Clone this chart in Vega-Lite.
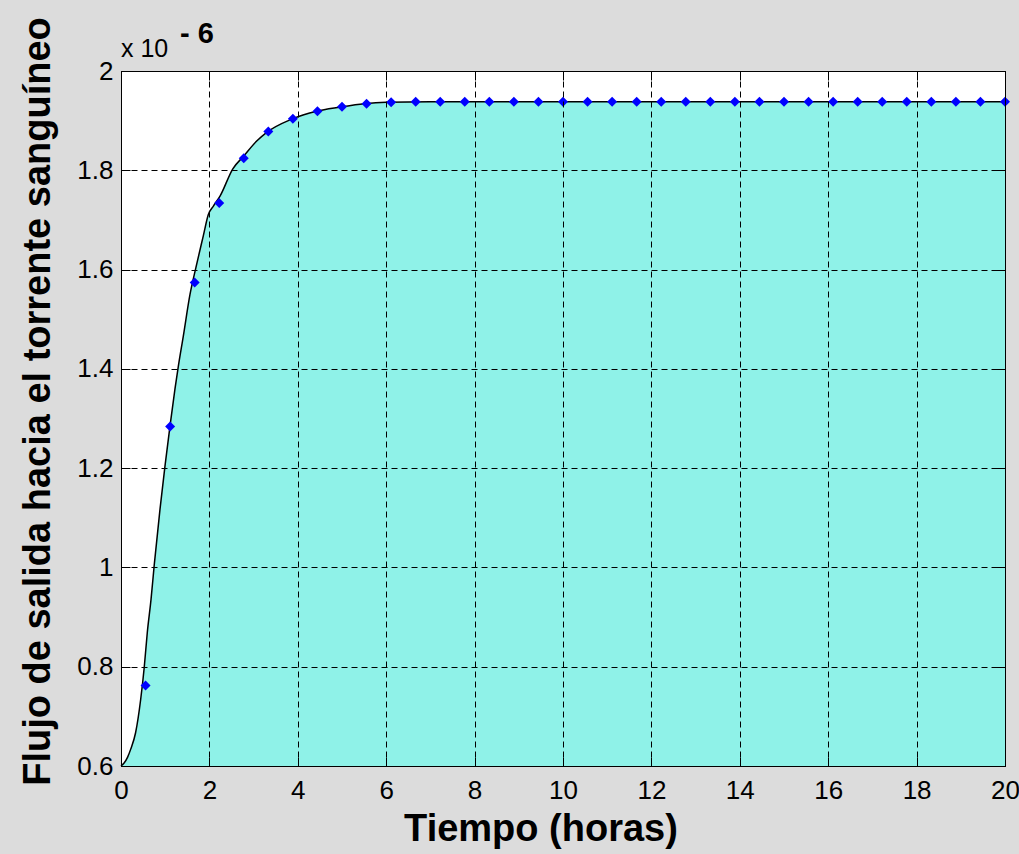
{
  "$schema": "https://vega.github.io/schema/vega-lite/v6.json",
  "width": 884,
  "height": 695,
  "autosize": {"type": "none"},
  "padding": {"left": 121, "top": 71, "right": 14, "bottom": 88},
  "background": "#dcdcdc",
  "config": {
    "view": {"fill": "white", "stroke": "black", "strokeWidth": 1},
    "font": "Liberation Sans"
  },
  "datasets": {
    "curve": [
      {"t": 0, "v": 0.600},
      {"t": 0.07, "v": 0.606},
      {"t": 0.15, "v": 0.618},
      {"t": 0.22, "v": 0.634},
      {"t": 0.33, "v": 0.667},
      {"t": 0.445, "v": 0.734},
      {"t": 0.527, "v": 0.800},
      {"t": 0.595, "v": 0.869},
      {"t": 0.68, "v": 0.936},
      {"t": 0.75, "v": 1.003},
      {"t": 0.882, "v": 1.117},
      {"t": 0.995, "v": 1.204},
      {"t": 1.109, "v": 1.285},
      {"t": 1.222, "v": 1.360},
      {"t": 1.297, "v": 1.405},
      {"t": 1.41, "v": 1.466},
      {"t": 1.561, "v": 1.550},
      {"t": 1.697, "v": 1.605},
      {"t": 1.862, "v": 1.668},
      {"t": 1.976, "v": 1.711},
      {"t": 2.09, "v": 1.728},
      {"t": 2.24, "v": 1.748},
      {"t": 2.53, "v": 1.803},
      {"t": 2.77, "v": 1.828},
      {"t": 3.07, "v": 1.859},
      {"t": 3.29, "v": 1.876},
      {"t": 3.86, "v": 1.903},
      {"t": 4.43, "v": 1.919},
      {"t": 4.95, "v": 1.927},
      {"t": 5.5, "v": 1.934},
      {"t": 6.0, "v": 1.937},
      {"t": 7.0, "v": 1.938},
      {"t": 20, "v": 1.938}
    ],
    "pts": [
      {"t": 0.5556, "v": 0.762},
      {"t": 1.1111, "v": 1.284},
      {"t": 1.6667, "v": 1.574},
      {"t": 2.2222, "v": 1.734},
      {"t": 2.7778, "v": 1.824},
      {"t": 3.3333, "v": 1.878},
      {"t": 3.8889, "v": 1.904},
      {"t": 4.4444, "v": 1.919},
      {"t": 5.0, "v": 1.928},
      {"t": 5.5556, "v": 1.934},
      {"t": 6.1111, "v": 1.937},
      {"t": 6.6667, "v": 1.938},
      {"t": 7.2222, "v": 1.938},
      {"t": 7.7778, "v": 1.938},
      {"t": 8.3333, "v": 1.938},
      {"t": 8.8889, "v": 1.938},
      {"t": 9.4444, "v": 1.938},
      {"t": 10.0, "v": 1.938},
      {"t": 10.5556, "v": 1.938},
      {"t": 11.1111, "v": 1.938},
      {"t": 11.6667, "v": 1.938},
      {"t": 12.2222, "v": 1.938},
      {"t": 12.7778, "v": 1.938},
      {"t": 13.3333, "v": 1.938},
      {"t": 13.8889, "v": 1.938},
      {"t": 14.4444, "v": 1.938},
      {"t": 15.0, "v": 1.938},
      {"t": 15.5556, "v": 1.938},
      {"t": 16.1111, "v": 1.938},
      {"t": 16.6667, "v": 1.938},
      {"t": 17.2222, "v": 1.938},
      {"t": 17.7778, "v": 1.938},
      {"t": 18.3333, "v": 1.938},
      {"t": 18.8889, "v": 1.938},
      {"t": 19.4444, "v": 1.938},
      {"t": 20.0, "v": 1.938}
    ]
  },
  "layer": [
    {
      "data": {"name": "curve"},
      "mark": {"type": "area", "color": "#8ff2e8", "opacity": 1, "interpolate": "monotone"},
      "encoding": {
        "x": {
          "field": "t", "type": "quantitative",
          "scale": {"domain": [0, 20], "nice": false, "zero": false},
          "axis": {
            "orient": "bottom",
            "values": [0, 2, 4, 6, 8, 10, 12, 14, 16, 18, 20],
            "format": "d",
            "grid": true, "gridColor": "black", "gridDash": [6, 4], "gridWidth": 1, "gridOpacity": 1,
            "ticks": true, "tickSize": -9, "tickColor": "black", "tickWidth": 1,
            "domain": true, "domainColor": "black", "domainWidth": 1,
            "labelFont": "Liberation Sans", "labelFontSize": 26, "labelColor": "black",
            "labelPadding": 20, "labelFlush": false, "labelOverlap": false,
            "title": "Tiempo (horas)",
            "titleFont": "Liberation Sans", "titleFontSize": 38, "titleFontWeight": "bold", "titleColor": "black",
            "titleX": 419.5, "titleY": 74, "titleAlign": "center", "titleBaseline": "alphabetic",
            "zindex": 1
          }
        },
        "y": {
          "field": "v", "type": "quantitative",
          "scale": {"domain": [0.6, 2], "nice": false, "zero": false},
          "axis": {
            "orient": "left",
            "values": [0.6, 0.8, 1, 1.2, 1.4, 1.6, 1.8, 2],
            "format": "~g",
            "grid": true, "gridColor": "black", "gridDash": [6, 4], "gridWidth": 1, "gridOpacity": 1,
            "ticks": true, "tickSize": -9, "tickColor": "black", "tickWidth": 1,
            "domain": true, "domainColor": "black", "domainWidth": 1,
            "labelFont": "Liberation Sans", "labelFontSize": 26, "labelColor": "black",
            "labelPadding": 17, "labelFlush": false, "labelOverlap": false,
            "title": "Flujo de salida hacia el torrente sanguíneo",
            "titleFont": "Liberation Sans", "titleFontSize": 38, "titleFontWeight": "bold", "titleColor": "black",
            "titleAngle": -90, "titleX": -72, "titleY": 330, "titleAlign": "center", "titleBaseline": "alphabetic",
            "zindex": 1
          }
        },
        "y2": {"datum": 0.6}
      }
    },
    {
      "data": {"name": "curve"},
      "mark": {"type": "line", "color": "black", "strokeWidth": 1.5, "interpolate": "monotone"},
      "encoding": {
        "x": {
          "field": "t", "type": "quantitative",
          "axis": {
            "orient": "top", "values": [0, 2, 4, 6, 8, 10, 12, 14, 16, 18, 20],
            "labels": false, "grid": false, "title": null,
            "ticks": true, "tickSize": -9, "tickColor": "black", "tickWidth": 1,
            "domain": true, "domainColor": "black", "domainWidth": 1, "zindex": 1
          }
        },
        "y": {
          "field": "v", "type": "quantitative",
          "axis": {
            "orient": "right", "values": [0.6, 0.8, 1, 1.2, 1.4, 1.6, 1.8, 2],
            "labels": false, "grid": false, "title": null,
            "ticks": true, "tickSize": -9, "tickColor": "black", "tickWidth": 1,
            "domain": true, "domainColor": "black", "domainWidth": 1, "zindex": 1
          }
        }
      }
    },
    {
      "data": {"name": "pts"},
      "mark": {"type": "point", "shape": "diamond", "filled": true, "color": "#0000ff", "size": 100, "opacity": 1},
      "encoding": {
        "x": {"field": "t", "type": "quantitative", "axis": null},
        "y": {"field": "v", "type": "quantitative", "axis": null}
      }
    },
    {
      "data": {"values": [{}]},
      "mark": {"type": "text", "text": "x 10", "align": "left", "baseline": "alphabetic", "dx": 0, "dy": -14, "font": "Liberation Sans", "fontSize": 25, "color": "black"},
      "encoding": {
        "x": {"datum": 0, "type": "quantitative", "axis": null},
        "y": {"datum": 2, "type": "quantitative", "axis": null}
      }
    },
    {
      "data": {"values": [{}]},
      "mark": {"type": "text", "text": "- 6", "align": "left", "baseline": "alphabetic", "dx": 59, "dy": -28, "font": "Liberation Sans", "fontSize": 29, "fontWeight": "bold", "color": "black"},
      "encoding": {
        "x": {"datum": 0, "type": "quantitative", "axis": null},
        "y": {"datum": 2, "type": "quantitative", "axis": null}
      }
    }
  ],
  "resolve": {"axis": {"x": "independent", "y": "independent"}}
}
